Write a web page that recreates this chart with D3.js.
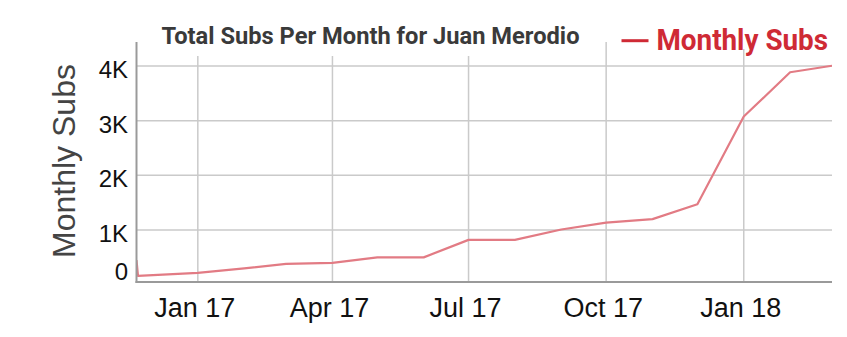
<!DOCTYPE html>
<html>
<head>
<meta charset="utf-8">
<script src="https://cdn.jsdelivr.net/npm/d3@7"></script>
<style>
  body { margin: 0; background: #fff; }
  svg { display: block; }
</style>
</head>
<body>
<svg id="chart" width="847" height="337"></svg>
<script>
// Monthly subscriber totals
const dates = ["2016-11-21", "2016-11-22", "2017-01-01", "2017-02-01", "2017-03-01", "2017-04-01",
               "2017-05-01", "2017-06-01", "2017-07-01", "2017-08-01", "2017-09-01", "2017-10-01",
               "2017-11-01", "2017-12-01", "2018-01-01", "2018-02-01", "2018-03-01"];
const subs = [450, 160, 215, 300, 380, 400, 500, 500, 820, 820, 1010, 1135, 1200, 1470, 3075, 3885, 4005];

const yTicks = [0, 1000, 2000, 3000, 4000];
const yTickLabels = ["0", "1K", "2K", "3K", "4K"];
const xTicks = ["2017-01-01", "2017-04-01", "2017-07-01", "2017-10-01", "2018-01-01"];
const xTickLabels = ["Jan 17", "Apr 17", "Jul 17", "Oct 17", "Jan 18"];

const titleText = "Total Subs Per Month for Juan Merodio";
const seriesName = "Monthly Subs";
const yTitle = "Monthly Subs";

const parse = d3.utcParse("%Y-%m-%d");
const points = dates.map((d, i) => ({ date: parse(d), value: subs[i] }));

const plot = { left: 136.5, right: 832, top: 42, bottom: 282 };

const x = d3.scaleUtc()
  .domain([parse("2016-11-21"), parse("2018-03-01")])
  .range([plot.left, plot.right]);
const y = d3.scaleLinear()
  .domain([0, 4000])
  .range([284.7, 66]);

const svg = d3.select("#chart");

svg.append("defs").append("clipPath").attr("id", "plot-clip")
  .append("rect")
  .attr("x", plot.left).attr("y", plot.top)
  .attr("width", plot.right - plot.left).attr("height", plot.bottom - plot.top);

// gridlines
const grid = svg.append("g").attr("stroke", "#cacaca").attr("stroke-width", 1.5);
grid.selectAll("line.h").data(yTicks.filter(v => y(v) < plot.bottom)).join("line")
  .attr("class", "h")
  .attr("x1", plot.left).attr("x2", plot.right)
  .attr("y1", d => y(d)).attr("y2", d => y(d));
grid.selectAll("line.v").data(xTicks).join("line")
  .attr("class", "v")
  .attr("x1", d => x(parse(d))).attr("x2", d => x(parse(d)))
  .attr("y1", plot.top).attr("y2", plot.bottom);

// series line
const line = d3.line().x(d => x(d.date)).y(d => y(d.value));
svg.append("path")
  .datum(points)
  .attr("clip-path", "url(#plot-clip)")
  .attr("fill", "none")
  .attr("stroke", "#e27b84")
  .attr("stroke-width", 2.2)
  .attr("stroke-linejoin", "round")
  .attr("d", line);

// header boxes sit over the gridlines
svg.append("rect").attr("x", 155).attr("y", 16).attr("width", 431).attr("height", 40).attr("fill", "#fff");
svg.append("rect").attr("x", 615).attr("y", 16).attr("width", 222).attr("height", 33).attr("fill", "#fff");

// axis lines
svg.append("line")
  .attr("x1", plot.left).attr("x2", plot.left)
  .attr("y1", plot.top).attr("y2", plot.bottom + 1)
  .attr("stroke", "#9a9a9a").attr("stroke-width", 2);
svg.append("line")
  .attr("x1", plot.left - 1).attr("x2", plot.right)
  .attr("y1", plot.bottom).attr("y2", plot.bottom)
  .attr("stroke", "#9a9a9a").attr("stroke-width", 2);

// y tick labels
svg.append("g")
  .selectAll("text").data(yTicks).join("text")
  .attr("x", 128)
  .attr("y", d => Math.min(y(d) + 3.5, plot.bottom - 10.3))
  .attr("dy", "0.35em")
  .attr("text-anchor", "end")
  .attr("font-family", "'Liberation Sans', Arial, sans-serif")
  .attr("font-size", 24)
  .attr("fill", "#111")
  .text((d, i) => yTickLabels[i]);

// x tick labels
svg.append("g")
  .selectAll("text").data(xTicks).join("text")
  .attr("x", d => x(parse(d)) - 3)
  .attr("y", 317)
  .attr("text-anchor", "middle")
  .attr("font-family", "'Liberation Sans', Arial, sans-serif")
  .attr("font-size", 27)
  .attr("fill", "#111")
  .text((d, i) => xTickLabels[i]);

// y axis title
svg.append("text")
  .attr("transform", "translate(75,161) rotate(-90)")
  .attr("text-anchor", "middle")
  .attr("font-family", "'Liberation Sans', Arial, sans-serif")
  .attr("font-size", 32)
  .attr("fill", "#444")
  .text(yTitle);

// chart title
svg.append("text")
  .attr("x", 161.5).attr("y", 43.5)
  .attr("font-family", "Roboto, sans-serif")
  .attr("font-weight", "bold")
  .attr("font-size", 23)
  .attr("fill", "#3a3a3a")
  .attr("textLength", 418)
  .attr("lengthAdjust", "spacingAndGlyphs")
  .text(titleText);

// legend
svg.append("line")
  .attr("x1", 621.5).attr("x2", 648.5)
  .attr("y1", 40.7).attr("y2", 40.7)
  .attr("stroke", "#cf2a35").attr("stroke-width", 3);
svg.append("text")
  .attr("x", 656.5).attr("y", 49.5)
  .attr("font-family", "Roboto, sans-serif")
  .attr("font-weight", "bold")
  .attr("font-size", 29)
  .attr("fill", "#cf2a35")
  .attr("textLength", 171.5)
  .attr("lengthAdjust", "spacingAndGlyphs")
  .text(seriesName);
</script>
</body>
</html>
